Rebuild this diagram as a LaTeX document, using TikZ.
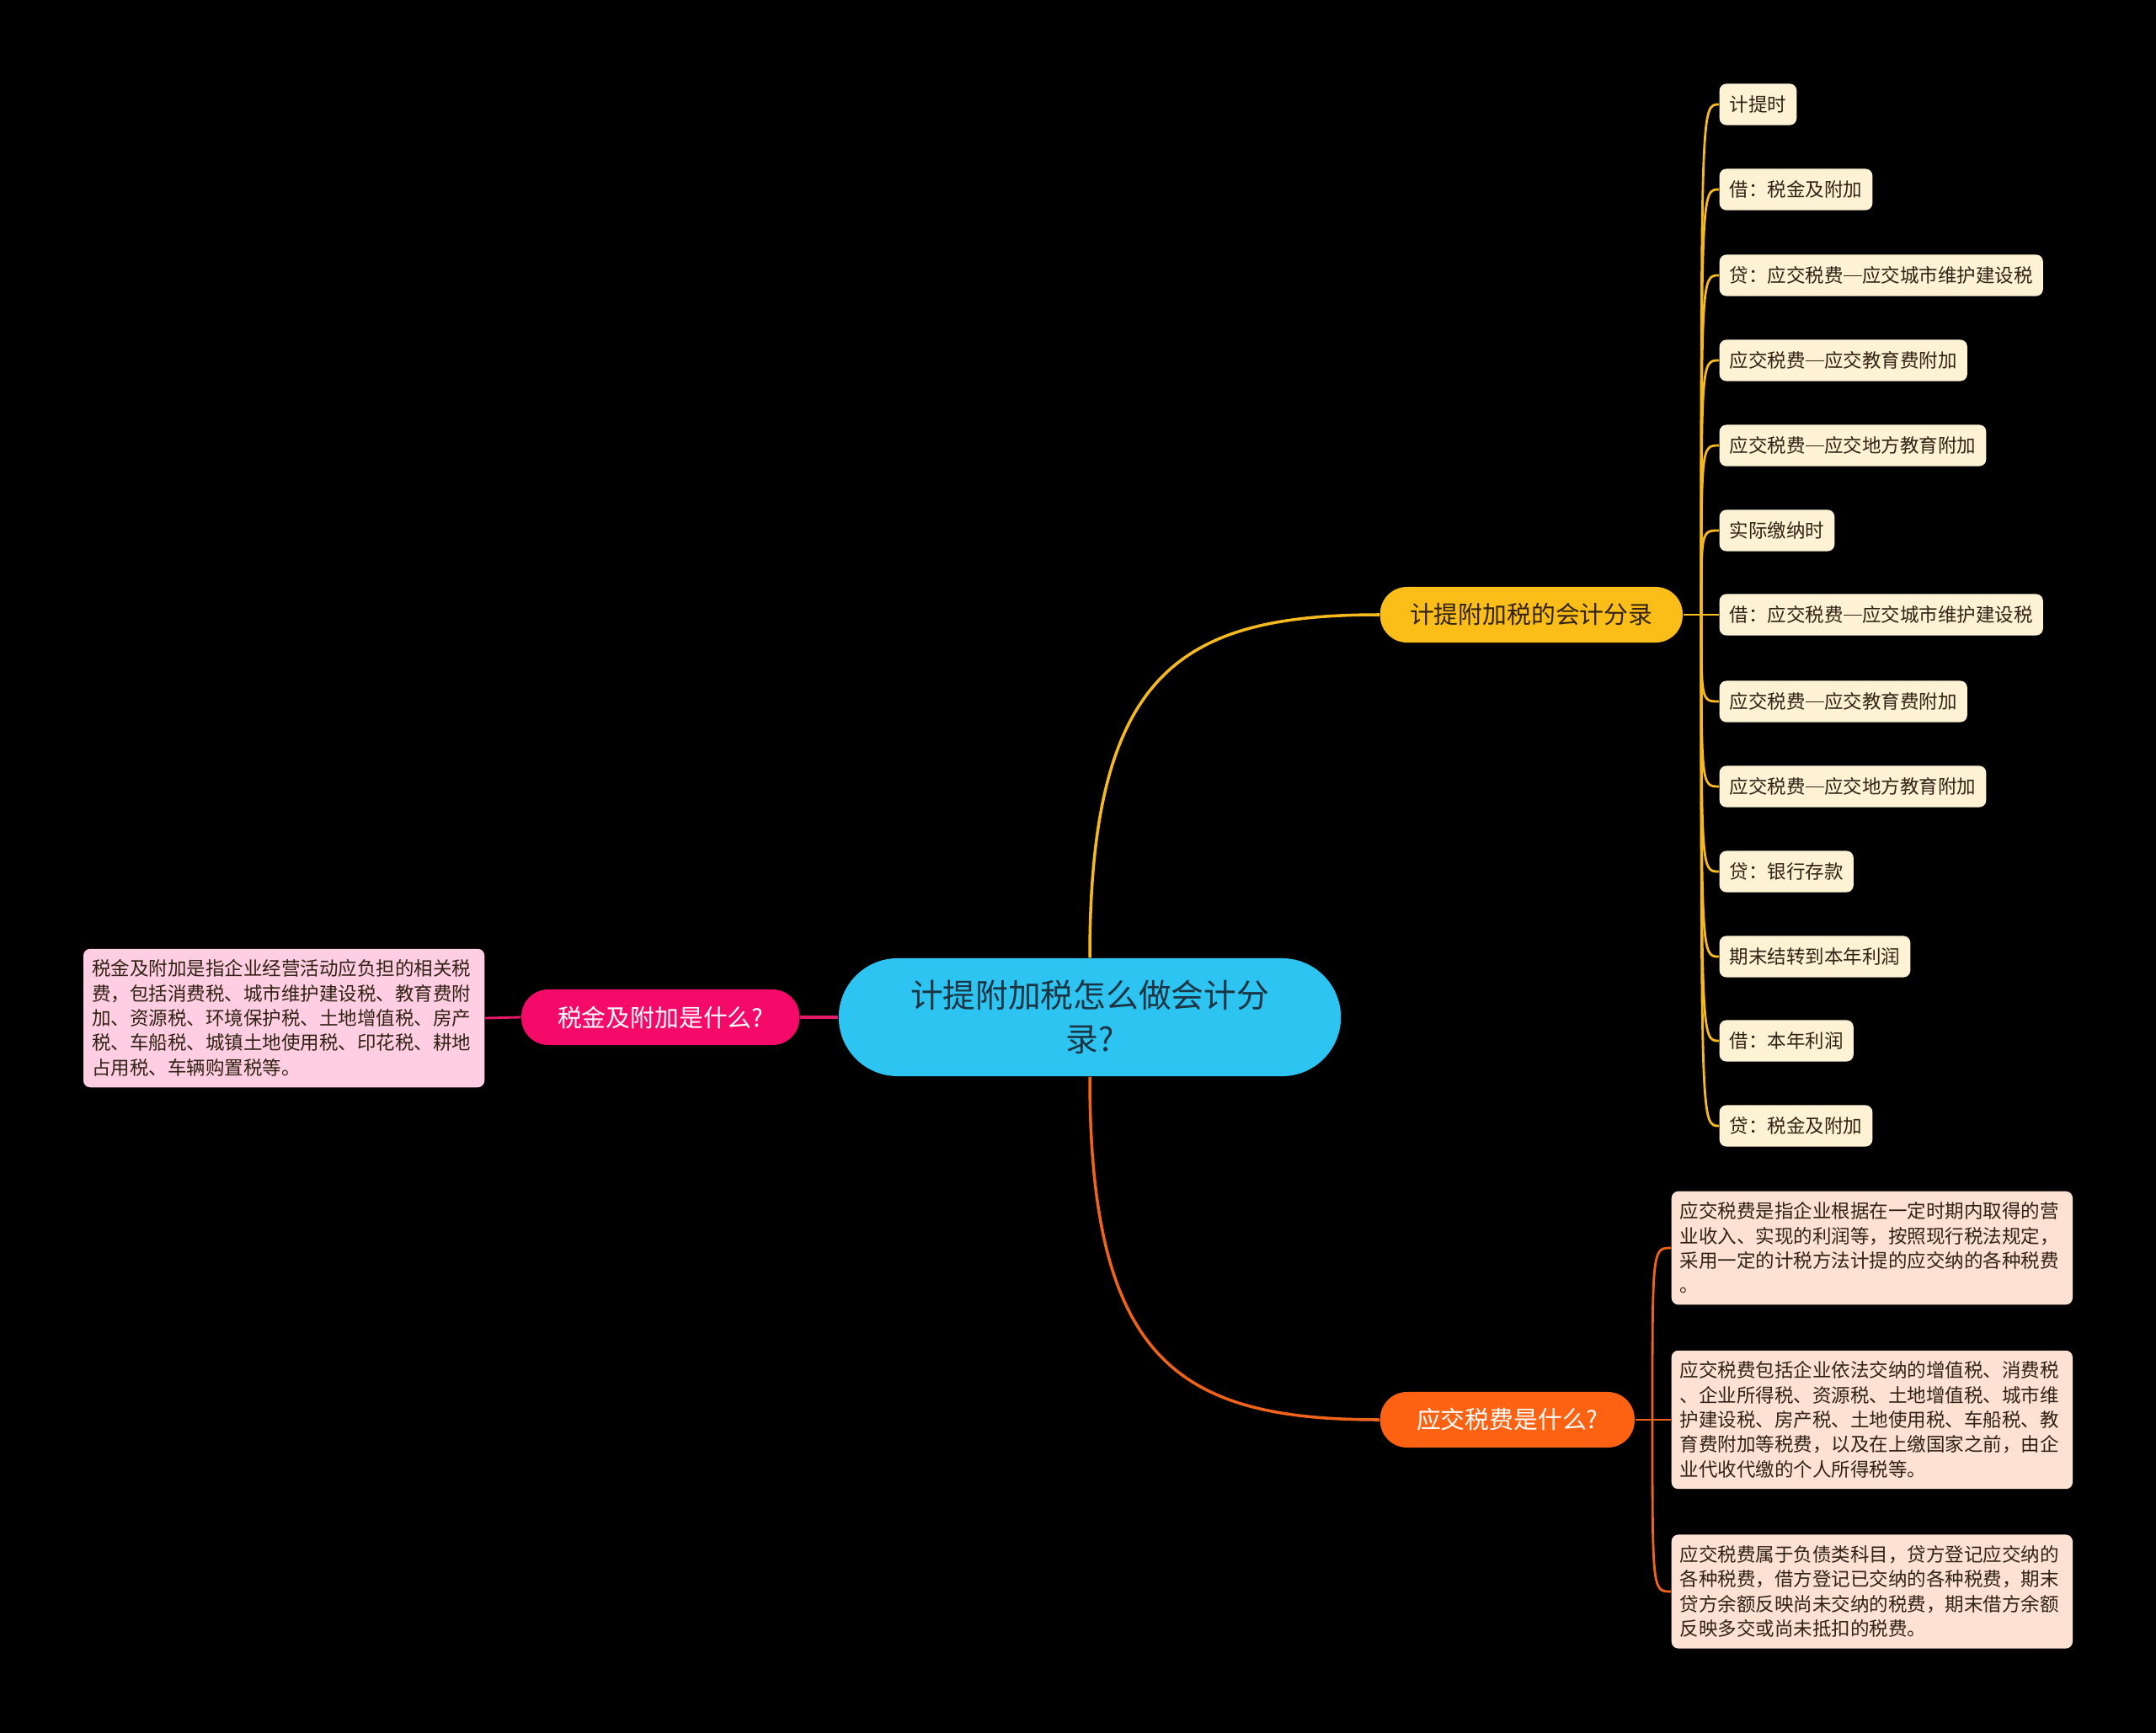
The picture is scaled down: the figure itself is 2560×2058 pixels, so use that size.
\documentclass[tikz,border=0pt]{standalone}
\usepackage{fontspec}
\setmainfont{Noto Sans CJK SC}
\usetikzlibrary{calc}
\definecolor{rootBlue}{RGB}{46,196,242}
\definecolor{rootInk}{RGB}{27,52,66}
\definecolor{topicGold}{RGB}{251,190,24}
\definecolor{topicRose}{RGB}{245,10,106}
\definecolor{topicFlame}{RGB}{252,98,18}
\definecolor{leafCream}{RGB}{253,243,212}
\definecolor{leafPink}{RGB}{255,206,226}
\definecolor{leafPeach}{RGB}{253,226,212}
\definecolor{inkDark}{RGB}{48,34,20}
\definecolor{lineGold}{RGB}{246,186,30}
\definecolor{lineRose}{RGB}{232,24,106}
\definecolor{lineFlame}{RGB}{240,100,26}
\newcommand{\subdash}{\rule[0.34em]{1em}{0.06em}}

\tikzset{
  roottopic/.style={rounded corners=0.7cm,fill=rootBlue,text=rootInk,minimum width=5.96cm,minimum height=1.4cm,align=center,font=\fontsize{11}{14.8}\selectfont},
  maintopic/.style={rounded corners=0.32cm,minimum height=0.66cm,inner xsep=0.2cm,font=\fontsize{8.2}{10}\selectfont},
  stepleaf/.style={rounded corners=0.08cm,fill=leafCream,text=inkDark,anchor=west,minimum height=0.49cm,inner xsep=0.12cm,font=\fontsize{6.4}{8.35}\selectfont},
  noteleaf/.style={rounded corners=0.08cm,text=inkDark,text width=4.56cm,inner xsep=0.1cm,inner ysep=0.13cm,align=left,font=\fontsize{6.4}{8.35}\selectfont},
  goldline/.style={draw=lineGold,line width=0.8pt},
  roseline/.style={draw=lineRose,line width=0.8pt},
  flameline/.style={draw=lineFlame,line width=0.8pt}
}

\begin{document}
\begin{tikzpicture}[x=0.01cm,y=-0.01cm]
\useasboundingbox[fill=black] (0,0) rectangle (2560,2058);

% centre and main topics
\node[roottopic] (root) at (1294,1208) {计提附加税怎么做会计分\\录?};
\node[maintopic,fill=topicGold,text=inkDark,anchor=west,minimum width=3.59cm] (entry) at (1638,730) {计提附加税的会计分录};
\node[maintopic,fill=topicRose,text=white,anchor=east,minimum width=3.3cm] (surtax) at (950,1208) {税金及附加是什么?};
\node[maintopic,fill=topicFlame,text=white,anchor=west,minimum width=3.02cm] (payable) at (1638,1686) {应交税费是什么?};

% entries
\node[stepleaf] (e1) at (2041,124) {计提时};
\node[stepleaf] (e2) at (2041,225) {借：税金及附加};
\node[stepleaf] (e3) at (2041,327) {贷：应交税费\subdash 应交城市维护建设税};
\node[stepleaf] (e4) at (2041,428) {应交税费\subdash 应交教育费附加};
\node[stepleaf] (e5) at (2041,529) {应交税费\subdash 应交地方教育附加};
\node[stepleaf] (e6) at (2041,630) {实际缴纳时};
\node[stepleaf] (e7) at (2041,730) {借：应交税费\subdash 应交城市维护建设税};
\node[stepleaf] (e8) at (2041,833) {应交税费\subdash 应交教育费附加};
\node[stepleaf] (e9) at (2041,934) {应交税费\subdash 应交地方教育附加};
\node[stepleaf] (e10) at (2041,1035) {贷：银行存款};
\node[stepleaf] (e11) at (2041,1136) {期末结转到本年利润};
\node[stepleaf] (e12) at (2041,1236) {借：本年利润};
\node[stepleaf] (e13) at (2041,1337) {贷：税金及附加};

% notes
\node[noteleaf,fill=leafPink,anchor=east] (s1) at (576,1209) {税金及附加是指企业经营活动应负担的相关税\\费，包括消费税、城市维护建设税、教育费附\\加、资源税、环境保护税、土地增值税、房产\\税、车船税、城镇土地使用税、印花税、耕地\\占用税、车辆购置税等。};
\node[noteleaf,fill=leafPeach,anchor=west] (p1) at (1984,1482) {应交税费是指企业根据在一定时期内取得的营\\业收入、实现的利润等，按照现行税法规定，\\采用一定的计税方法计提的应交纳的各种税费\\。};
\node[noteleaf,fill=leafPeach,anchor=west] (p2) at (1984,1686) {应交税费包括企业依法交纳的增值税、消费税\\、企业所得税、资源税、土地增值税、城市维\\护建设税、房产税、土地使用税、车船税、教\\育费附加等税费，以及在上缴国家之前，由企\\业代收代缴的个人所得税等。};
\node[noteleaf,fill=leafPeach,anchor=west] (p3) at (1984,1890) {应交税费属于负债类科目，贷方登记应交纳的\\各种税费，借方登记已交纳的各种税费，期末\\贷方余额反映尚未交纳的税费，期末借方余额\\反映多交或尚未抵扣的税费。};

% connectors
\coordinate (ej) at (2020,730);
\coordinate (pj) at (1962,1686);
\draw[goldline,line width=1pt] (root.north) .. controls +(0,-338) and +(-238,0) .. (entry.west);
\draw[flameline,line width=1pt] (root.south) .. controls +(0,338) and +(-238,0) .. (payable.west);
\draw[roseline,line width=1pt] (root.west) -- (surtax.east);
\draw[roseline] (surtax.west) -- (s1.east);
\draw[goldline] (entry.east) -- (ej);
\foreach \n in {e1,e2,e3,e4,e5,e6,e7,e8,e9,e10,e11,e12,e13}
  \draw[goldline] (ej) .. controls (ej |- \n.west) .. (\n.west);
\draw[flameline] (payable.east) -- (pj);
\foreach \n in {p1,p2,p3}
  \draw[flameline] (pj) .. controls (pj |- \n.west) .. (\n.west);
\end{tikzpicture}
\end{document}
